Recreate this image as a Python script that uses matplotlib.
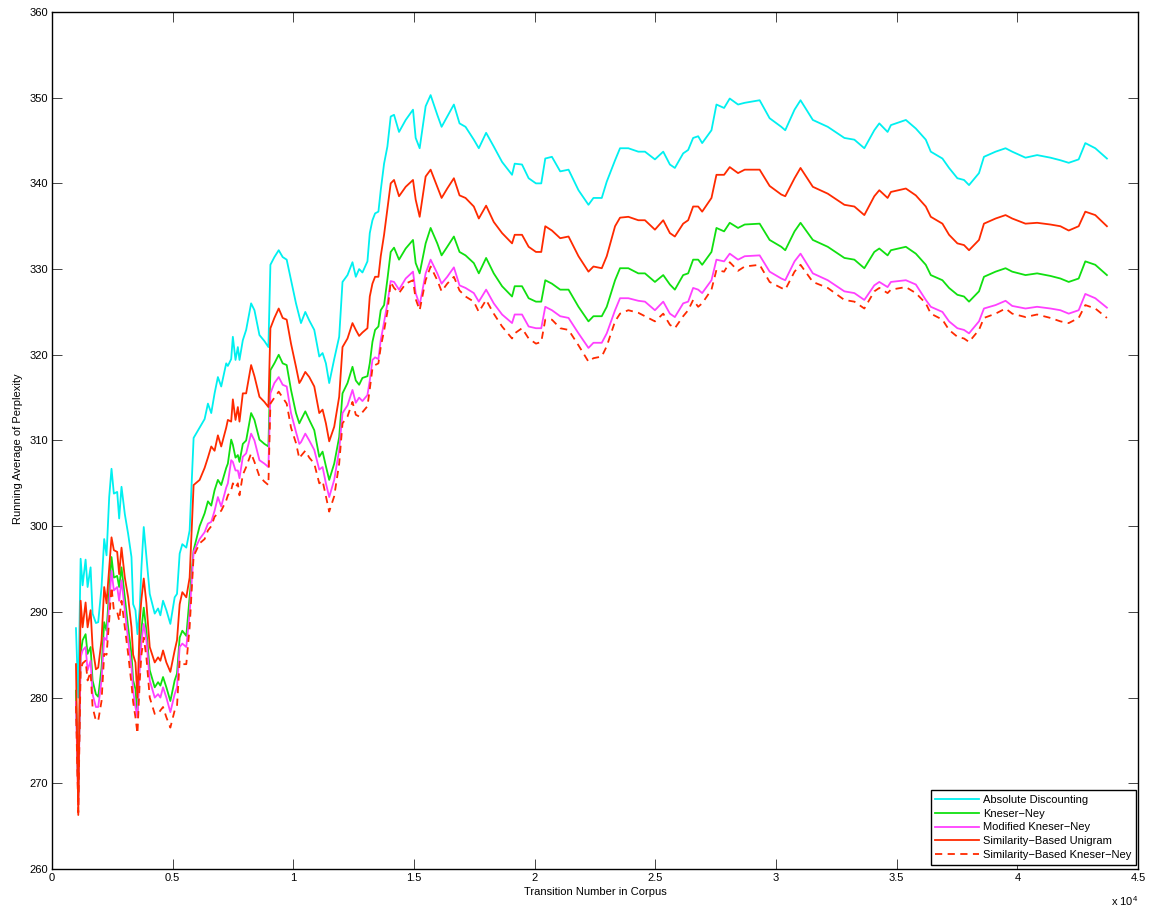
import matplotlib
matplotlib.use("Agg")
import matplotlib.pyplot as plt
from matplotlib.ticker import FuncFormatter, MultipleLocator

plt.rcParams.update({
    "font.family": ["Liberation Sans", "DejaVu Sans"],
    "font.size": 8,
    "mathtext.default": "regular",
})

# transition number at which the running averages were sampled
TRANSITIONS = [
    992, 1088, 1185, 1267, 1391, 1474, 1598, 1680, 1818, 1914,
    2052, 2162, 2259, 2369, 2465, 2562, 2700, 2782, 2879, 3017,
    3154, 3292, 3361, 3457, 3540, 3636, 3705, 3801, 3911, 4049,
    4256, 4394, 4490, 4600, 4738, 4903, 5082, 5179, 5289, 5399,
    5564, 5702, 5867,
    6116, 6323, 6460, 6598, 6736, 6873, 7011, 7218, 7286, 7424,
    7493, 7603, 7700, 7768, 7906, 8044, 8250, 8388, 8595, 8801,
    8966, 9049, 9214, 9393, 9558, 9724, 9903, 10109, 10247, 10316,
    10495, 10660, 10867, 11073, 11211, 11349, 11486, 11693, 11899, 12037,
    12244, 12450, 12588, 12726, 12863, 13070, 13167, 13277, 13387, 13525,
    13621, 13759, 13897, 14034, 14172, 14379,
    14655, 14958, 15069, 15234, 15482, 15688, 15964, 16143, 16377, 16652,
    16886, 17134, 17478, 17685, 17988, 18304, 18649, 19062, 19172, 19475,
    19750, 20053, 20273, 20439, 20714, 21058, 21403, 21816, 22229, 22435,
    22780, 22986, 23331, 23537, 23881, 24294, 24570, 24983, 25327, 25603,
    25809, 26153, 26360, 26566,
    26775, 26940, 27326, 27532, 27849, 28083, 28427, 28703, 29322, 29736,
    30218, 30383, 30768, 31016, 31526, 32145, 32834, 33247, 33660, 34073,
    34280, 34624, 34762, 35381, 35794, 36207, 36414, 36896, 37171, 37516,
    37791, 37998, 38411, 38617, 39099, 39512, 39788, 40338, 40820, 41371,
    41784, 42129, 42542, 42817, 43230, 43712,
]

ABS_DISC = [
    288.1, 280.0, 296.2, 293.1, 296.1, 292.9, 295.2, 289.8, 288.7, 288.8,
    292.9, 298.5, 296.6, 303.4, 306.7, 303.8, 304.0, 300.9, 304.6, 301.4,
    299.1, 296.4, 290.9, 290.2, 287.4, 290.5, 295.2, 299.9, 296.4, 292.1,
    289.8, 290.4, 289.6, 291.3, 290.2, 288.6, 291.7, 292.1, 296.8, 297.9,
    297.5, 299.5, 310.3,
    311.5, 312.5, 314.3, 313.2, 315.5, 317.4, 316.3, 319.0, 318.7, 319.5,
    322.1, 319.4, 320.9, 319.4, 321.7, 322.9, 326.0, 325.2, 322.3, 321.6,
    320.9, 330.5, 331.4, 332.2, 331.4, 331.1, 328.7, 326.0, 324.5, 323.7,
    325.0, 324.0, 322.9, 319.8, 320.2, 319.0, 316.7, 319.5, 322.1, 328.5,
    329.3, 330.8, 329.1, 330.0, 329.6, 330.9, 334.2, 335.7, 336.5, 336.7,
    339.2, 342.3, 344.3, 347.8, 348.0, 346.0,
    347.4, 348.6, 345.3, 344.1, 349.0, 350.3, 348.0, 346.6, 347.8, 349.2,
    347.0, 346.6, 345.1, 344.1, 345.9, 344.3, 342.5, 341.0, 342.3, 342.2,
    340.6, 340.0, 340.0, 342.9, 343.1, 341.4, 341.6, 339.2, 337.5, 338.3,
    338.3, 340.2, 342.7, 344.1, 344.1, 343.7, 343.7, 342.8, 343.7, 342.2,
    341.8, 343.5, 343.9, 345.3,
    345.5, 344.7, 346.2, 349.2, 348.8, 349.9, 349.2, 349.4, 349.7, 347.6,
    346.6, 346.2, 348.6, 349.7, 347.4, 346.6, 345.3, 345.1, 344.1, 346.2,
    347.0, 346.0, 346.8, 347.4, 346.4, 345.1, 343.7, 342.9, 341.8, 340.6,
    340.4, 339.8, 341.2, 343.1, 343.7, 344.1, 343.7, 343.0, 343.3, 343.0,
    342.7, 342.4, 342.8, 344.7, 344.1, 342.9,
]

KNESER_NEY = [
    280.8, 268.5, 285.1, 286.7, 287.4, 285.1, 285.9, 282.0, 280.4, 280.1,
    283.5, 288.8, 287.8, 292.5, 296.4, 294.0, 294.2, 292.9, 295.2, 291.7,
    288.2, 285.1, 282.0, 281.0, 278.0, 285.1, 288.0, 290.5, 287.8, 283.2,
    281.2, 281.8, 281.4, 282.4, 281.2, 279.6, 282.0, 282.8, 287.0, 287.8,
    287.2, 291.7, 297.2,
    300.0, 301.5, 302.9, 302.4, 304.2, 305.4, 304.8, 306.8, 307.3, 310.1,
    309.5, 308.0, 308.3, 307.5, 309.6, 310.0, 313.2, 312.4, 310.1, 309.6,
    309.3, 318.2, 319.0, 320.0, 319.0, 318.8, 315.9, 313.2, 312.0, 312.4,
    313.4, 312.4, 311.2, 308.1, 308.7, 307.0, 305.4, 307.3, 310.4, 315.5,
    316.7, 318.6, 317.0, 316.5, 317.3, 317.5, 319.0, 321.5, 322.9, 323.3,
    325.2, 325.8, 328.8, 332.0, 332.5, 331.1,
    332.4, 333.4, 330.7, 329.5, 333.0, 334.8, 333.0, 331.6, 332.6, 333.8,
    332.0, 331.6, 330.7, 329.5, 331.3, 329.5, 328.0, 326.8, 328.0, 328.0,
    326.6, 326.2, 326.2, 328.7, 328.3, 327.6, 327.6, 325.6, 323.9, 324.5,
    324.5, 325.6, 328.7, 330.1, 330.1, 329.5, 329.5, 328.5, 329.3, 328.2,
    327.6, 329.3, 329.5, 331.1,
    331.1, 330.5, 332.0, 334.8, 334.4, 335.4, 334.8, 335.2, 335.3, 333.4,
    332.6, 332.2, 334.4, 335.4, 333.4, 332.6, 331.3, 331.1, 330.1, 332.0,
    332.4, 331.6, 332.2, 332.6, 331.8, 330.5, 329.3, 328.7, 327.8, 327.0,
    326.8, 326.2, 327.4, 329.1, 329.7, 330.1, 329.7, 329.3, 329.5, 329.2,
    328.9, 328.5, 328.9, 330.9, 330.5, 329.3,
]

MOD_KNESER_NEY = [
    279.5, 267.5, 284.7, 285.5, 285.9, 283.2, 284.3, 280.4, 278.9, 278.9,
    282.0, 287.0, 286.7, 290.9, 294.8, 292.5, 292.9, 291.3, 293.7, 290.2,
    286.7, 283.5, 280.8, 278.9, 277.7, 283.5, 286.5, 288.6, 286.7, 282.0,
    280.0, 280.4, 280.0, 281.2, 280.0, 278.3, 280.4, 281.2, 285.9, 286.3,
    285.9, 289.8, 297.0,
    298.5, 299.3, 300.3, 300.5, 301.8, 303.4, 302.3, 304.5, 305.0, 307.7,
    307.5, 306.5, 306.5, 305.6, 308.1, 308.5, 310.8, 310.0, 307.7, 307.3,
    306.9, 315.5, 316.7, 317.4, 316.5, 316.3, 313.2, 311.0, 309.6, 309.8,
    310.8, 310.0, 308.9, 306.6, 306.9, 305.0, 303.4, 305.4, 308.9, 313.2,
    314.1, 315.9, 314.4, 315.0, 314.6, 315.3, 317.0, 319.4, 319.7, 319.5,
    321.7, 323.8, 326.0, 328.6, 328.5, 327.6,
    328.9, 329.7, 327.2, 325.8, 329.5, 331.1, 329.5, 328.3, 329.1, 330.2,
    328.1, 327.8, 327.2, 326.2, 327.6, 326.0, 324.7, 323.7, 324.7, 324.7,
    323.3, 323.1, 323.1, 325.6, 325.2, 324.5, 324.3, 322.5, 320.8, 321.4,
    321.4, 322.5, 325.2, 326.6, 326.6, 326.3, 326.2, 325.2, 326.2, 324.8,
    324.4, 326.0, 326.2, 327.8,
    327.6, 327.2, 328.7, 331.1, 330.9, 331.8, 331.1, 331.5, 331.6, 329.7,
    328.9, 328.7, 330.9, 331.8, 329.5, 328.7, 327.4, 327.2, 326.4, 328.1,
    328.5, 327.9, 328.5, 328.7, 328.2, 326.4, 325.6, 325.0, 323.9, 323.1,
    322.9, 322.5, 323.9, 325.4, 325.8, 326.3, 325.7, 325.4, 325.6, 325.4,
    325.2, 324.8, 325.2, 327.1, 326.6, 325.5,
]

SIM_UNIGRAM = [
    283.9, 266.3, 291.3, 288.2, 291.1, 288.2, 290.2, 285.9, 283.3, 283.5,
    286.7, 292.9, 291.0, 295.2, 298.7, 297.2, 297.0, 294.4, 297.5, 294.0,
    291.7, 288.2, 285.0, 284.1, 280.0, 289.0, 291.5, 293.9, 291.0, 285.9,
    284.1, 284.7, 284.3, 285.5, 284.1, 283.0, 285.5, 286.7, 290.9, 292.3,
    291.7, 294.0, 304.8,
    305.4, 306.8, 308.0, 309.3, 308.8, 310.6, 309.3, 311.5, 312.4, 312.2,
    314.8, 312.4, 313.9, 312.2, 315.5, 315.5, 318.8, 317.5, 315.1, 314.5,
    313.9, 323.1, 324.3, 325.4, 324.3, 324.1, 321.3, 318.6, 316.7, 317.0,
    318.0, 317.4, 316.3, 313.2, 313.6, 312.0, 309.9, 311.6, 315.1, 320.9,
    321.9, 323.7, 322.9, 322.2, 322.6, 323.1, 326.8, 328.3, 329.1, 329.1,
    331.5, 334.0, 337.0, 340.0, 340.4, 338.5,
    339.6, 340.4, 338.1, 336.1, 340.8, 341.6, 339.6, 338.3, 339.4, 340.6,
    338.6, 338.3, 337.3, 335.9, 337.4, 335.5, 334.2, 333.0, 334.0, 334.0,
    332.6, 332.0, 332.0, 335.0, 334.5, 333.6, 333.8, 331.5, 329.7, 330.3,
    330.1, 331.5, 335.0, 336.0, 336.1, 335.7, 335.7, 334.6, 335.7, 334.2,
    333.8, 335.3, 335.7, 337.3,
    337.3, 336.7, 338.3, 341.0, 341.0, 341.9, 341.2, 341.6, 341.6, 339.7,
    338.7, 338.5, 340.6, 341.8, 339.6, 338.8, 337.5, 337.3, 336.3, 338.5,
    339.2, 338.3, 339.0, 339.4, 338.6, 337.3, 336.1, 335.3, 334.0, 333.0,
    332.8, 332.2, 333.4, 335.3, 335.9, 336.3, 335.9, 335.3, 335.4, 335.2,
    335.0, 334.5, 335.0, 336.7, 336.3, 335.0,
]

SIM_KNESER_NEY = [
    279.0, 266.6, 283.2, 284.0, 284.3, 282.0, 283.0, 278.9, 277.3, 277.3,
    279.6, 285.1, 285.0, 289.0, 292.9, 290.2, 290.0, 289.0, 291.3, 288.2,
    285.1, 281.6, 279.5, 277.7, 275.8, 282.0, 285.0, 287.0, 284.7, 280.0,
    278.1, 278.1, 278.5, 278.9, 277.7, 276.5, 278.5, 279.0, 284.3, 283.9,
    283.9, 288.2, 296.5,
    298.0, 298.5, 299.5, 300.0, 301.1, 301.5, 301.8, 303.0, 303.6, 304.2,
    305.0, 304.5, 305.0, 303.6, 306.0, 306.9, 308.5, 307.5, 305.8, 305.2,
    304.8, 314.3, 315.0, 315.7, 315.0, 314.3, 311.5, 309.7, 307.9, 308.2,
    308.8, 308.0, 307.3, 305.0, 305.3, 303.5, 301.7, 303.5, 307.3, 312.0,
    312.8, 314.5, 313.0, 312.8, 313.3, 314.0, 316.0, 318.4, 318.8, 319.0,
    320.9, 322.8, 325.0, 328.5, 327.8, 327.2,
    328.3, 328.7, 326.5, 325.2, 328.7, 330.3, 328.7, 327.4, 328.3, 329.1,
    327.5, 326.8, 326.2, 325.0, 326.4, 324.8, 323.3, 321.9, 322.5, 323.1,
    321.9, 321.3, 321.5, 324.1, 324.1, 323.1, 322.9, 321.1, 319.2, 319.6,
    319.8, 321.0, 323.9, 324.8, 325.2, 324.9, 324.5, 323.9, 324.8, 323.5,
    323.1, 324.5, 325.2, 326.4,
    325.6, 326.0, 327.6, 329.9, 329.7, 330.8, 329.8, 330.3, 330.5, 328.5,
    327.8, 327.6, 329.7, 330.5, 328.5, 327.8, 326.4, 326.2, 325.4, 327.4,
    327.8, 327.2, 327.6, 327.9, 327.2, 326.0, 324.8, 324.1, 322.9, 322.1,
    321.9, 321.5, 322.9, 324.3, 324.8, 325.4, 324.8, 324.4, 324.7, 324.3,
    323.9, 323.7, 324.3, 325.8, 325.4, 324.3,
]

SERIES = [
    ("Absolute Discounting", ABS_DISC, "#00F0F0", "-"),
    ("Kneser\u2212Ney", KNESER_NEY, "#10E010", "-"),
    ("Modified Kneser\u2212Ney", MOD_KNESER_NEY, "#FF40FF", "-"),
    ("Similarity\u2212Based Unigram", SIM_UNIGRAM, "#FF2A00", "-"),
    ("Similarity\u2212Based Kneser\u2212Ney", SIM_KNESER_NEY, "#FF2A00", "--"),
]

fig = plt.figure(figsize=(11.51, 9.07), dpi=100)
ax = fig.add_axes([0.0452, 0.0419, 0.9435, 0.9449])

for label, vals, color, ls in SERIES:
    assert len(vals) == len(TRANSITIONS)
    line, = ax.plot(TRANSITIONS, vals, color=color, lw=1.3, ls=ls, label=label)
    if ls == "--":
        line.set_dashes((4, 3))

ax.set_xlim(0, 45000)
ax.set_ylim(260, 360)
ax.xaxis.set_major_locator(MultipleLocator(5000))
ax.yaxis.set_major_locator(MultipleLocator(10))
ax.xaxis.set_major_formatter(FuncFormatter(lambda v, p: f"{v / 1e4:g}"))
ax.tick_params(direction="in", top=True, right=True, length=7, width=0.7,
               color="#444444", pad=3, labelsize=8)
for s in ax.spines.values():
    s.set_linewidth(1.0)

ax.text(0.9755, -0.038, "x 10$^{4}$", transform=ax.transAxes, fontsize=8,
        ha="left", va="center")
ax.set_xlabel("Transition Number in Corpus", fontsize=8)
ax.set_ylabel("Running Average of Perplexity", fontsize=8)
ax.xaxis.set_label_coords(0.5, -0.021)
ax.yaxis.set_label_coords(-0.027, 0.49)

leg = ax.legend(loc="lower right", bbox_to_anchor=(0.998, 0.005), borderaxespad=0,
                fancybox=False, edgecolor="black", framealpha=1, fontsize=8,
                handlelength=3.9, handletextpad=0.4, labelspacing=0.35,
                borderpad=0.4)
leg.get_frame().set_linewidth(1.0)

fig.savefig("out.png", dpi=100)
